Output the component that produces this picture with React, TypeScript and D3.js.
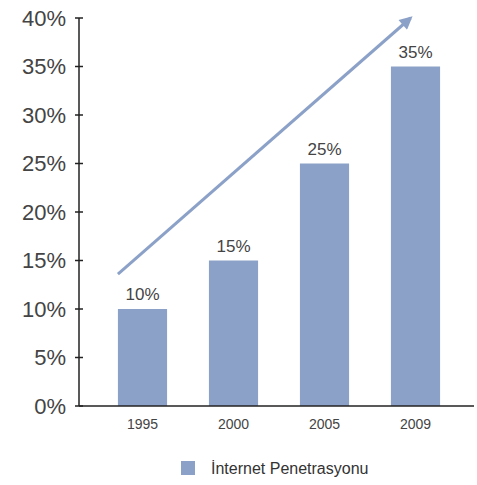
import React from "react";
import * as d3 from "d3";

const years = ["1995", "2000", "2005", "2009"];
const penetration = [10, 15, 25, 35];
const yTicks = [0, 5, 10, 15, 20, 25, 30, 35, 40];
const legendLabel = "İnternet Penetrasyonu";
// trend arrow, in (year position, percent) terms
const arrowFrom = { year: "1995", value: 13.6 };
const arrowTo = { year: "2009", value: 40 };

const App: React.FC = () => {
  const width = 477;
  const height = 485;
  const margin = { top: 18, left: 79 };
  const plotBottom = 406;

  const y = d3.scaleLinear().domain([0, 40]).range([plotBottom, margin.top]);
  const x = d3
    .scaleBand<string>()
    .domain(years)
    .range([97, 461])
    .paddingInner(0.46)
    .paddingOuter(0.23);

  const barColor = "#8ca1c8";
  const textColor = "#444";
  const font = "'Liberation Sans', Arial, sans-serif";

  const ax1 = x(arrowFrom.year)!;
  const ay1 = y(arrowFrom.value);
  const ax2 = x(arrowTo.year)! + x.bandwidth() * 0.4;
  const ay2 = y(arrowTo.value);

  return (
    <svg
      width={width}
      height={height}
      style={{ position: "absolute", left: 0, top: 0, background: "#fff" }}
      fontFamily={font}
    >
      <defs>
        <marker
          id="head"
          viewBox="0 0 10 10"
          refX="8"
          refY="5"
          markerWidth="16"
          markerHeight="13"
          orient="auto"
          markerUnits="userSpaceOnUse"
        >
          <path d="M0,0 L10,5 L0,10 z" fill={barColor} />
        </marker>
      </defs>

      {/* bars */}
      {years.map((yr, i) => (
        <g key={yr}>
          <rect
            x={x(yr)}
            y={y(penetration[i])}
            width={x.bandwidth()}
            height={plotBottom - y(penetration[i])}
            fill={barColor}
          />
          <text
            x={x(yr)! + x.bandwidth() / 2}
            y={y(penetration[i]) - 9}
            textAnchor="middle"
            fontSize={17}
            fill={textColor}
          >
            {penetration[i]}%
          </text>
          <text
            x={x(yr)! + x.bandwidth() / 2}
            y={plotBottom + 23}
            textAnchor="middle"
            fontSize={14}
            fill={textColor}
          >
            {yr}
          </text>
        </g>
      ))}

      {/* y axis */}
      <line x1={margin.left} x2={margin.left} y1={y(40)} y2={plotBottom} stroke="#222" strokeWidth={1.5} />
      {yTicks.map((t) => (
        <g key={t}>
          <line x1={margin.left - 4} x2={margin.left + 4} y1={y(t)} y2={y(t)} stroke="#222" strokeWidth={1.5} />
          <text
            x={margin.left - 13}
            y={y(t)}
            dy="0.35em"
            textAnchor="end"
            fontSize={22}
            fill={textColor}
          >
            {t}%
          </text>
        </g>
      ))}

      {/* x axis */}
      <line x1={margin.left} x2={474} y1={plotBottom} y2={plotBottom} stroke="#222" strokeWidth={1.5} />

      {/* trend arrow */}
      <line
        x1={ax1}
        y1={ay1}
        x2={ax2}
        y2={ay2}
        stroke={barColor}
        strokeWidth={3}
        markerEnd="url(#head)"
      />

      {/* legend */}
      <rect x={181} y={461} width={14} height={14} fill={barColor} />
      <text x={211} y={474} fontSize={16} fill="#333">
        {legendLabel}
      </text>
    </svg>
  );
};

export default App;
